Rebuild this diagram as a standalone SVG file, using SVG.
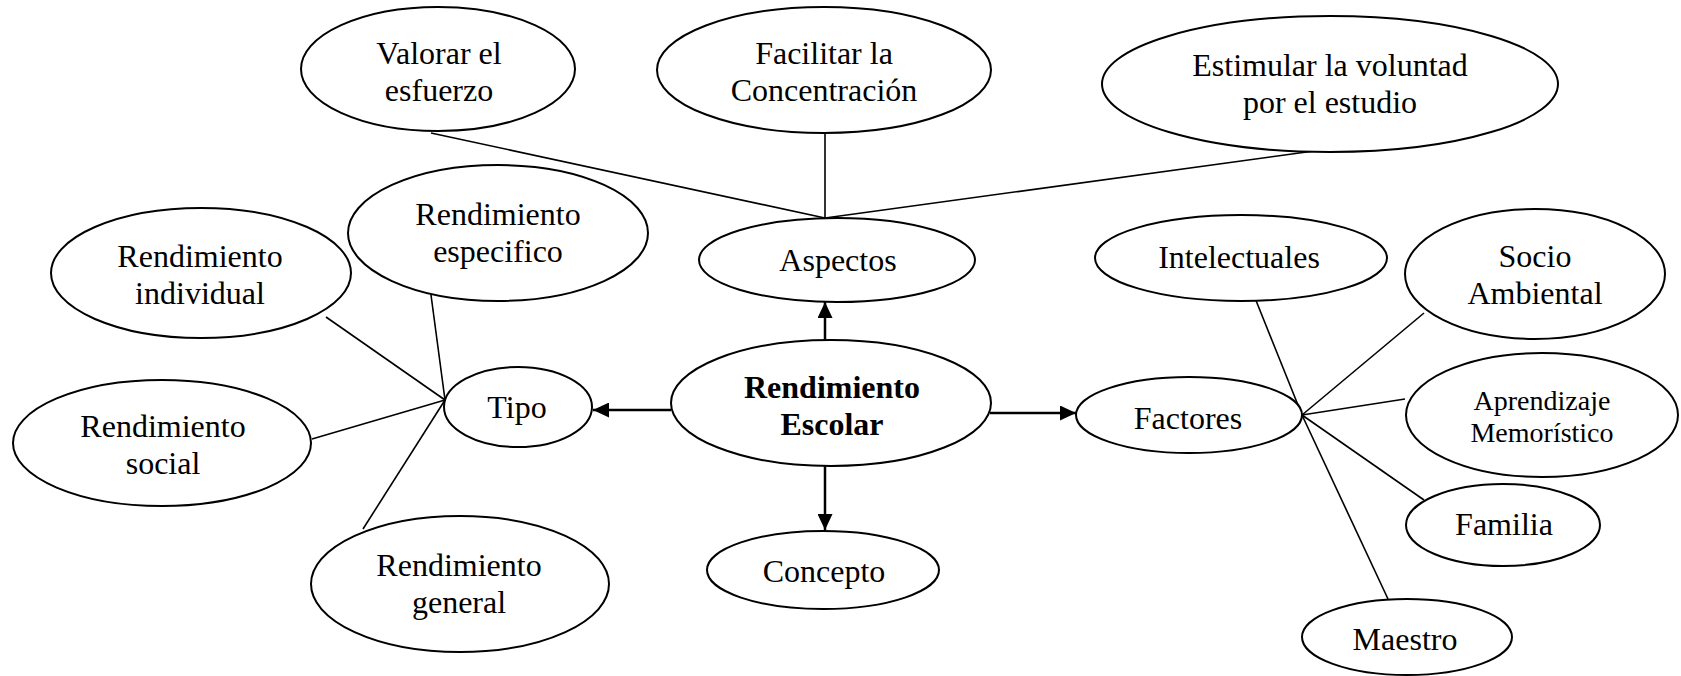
<svg xmlns="http://www.w3.org/2000/svg" width="1681" height="676" viewBox="0 0 1681 676">
<defs>
<style>
.n{fill:#fff;stroke:#000;stroke-width:2}
.t{font-family:"Liberation Serif","Times New Roman",serif;font-size:32px;fill:#000;text-anchor:middle}
.s{font-size:28px}
.b{font-weight:bold}
.l{stroke:#000;stroke-width:1.6;fill:none}
.a{stroke:#000;stroke-width:2.5;fill:none;marker-end:url(#ah)}
</style>
<marker id="ah" viewBox="0 0 16 15" refX="16" refY="7.5" markerWidth="16" markerHeight="15" markerUnits="userSpaceOnUse" orient="auto">
<path d="M0,0 L16,7.5 L0,15 Z" fill="#000"/>
</marker>
</defs>
<rect width="1681" height="676" fill="#fff"/>
<g id="connectors">
<line class="l" x1="431" y1="133" x2="825" y2="218"/>
<line class="l" x1="825" y1="133" x2="825" y2="218"/>
<line class="l" x1="1314" y1="151" x2="825" y2="218"/>
<line class="l" x1="326" y1="317" x2="445" y2="400"/>
<line class="l" x1="431" y1="295" x2="445" y2="400"/>
<line class="l" x1="312" y1="439" x2="445" y2="400"/>
<line class="l" x1="363" y1="529" x2="445" y2="400"/>
<line class="l" x1="1255" y1="298" x2="1302" y2="415"/>
<line class="l" x1="1424" y1="313" x2="1302" y2="415"/>
<line class="l" x1="1405" y1="399" x2="1302" y2="415"/>
<line class="l" x1="1424" y1="500" x2="1302" y2="415"/>
<line class="l" x1="1388" y1="599" x2="1302" y2="415"/>
<line class="a" x1="825" y1="340" x2="825" y2="302"/>
<line class="a" x1="825" y1="466" x2="825" y2="530"/>
<line class="a" x1="671" y1="410" x2="593" y2="410"/>
<line class="a" x1="990" y1="413" x2="1076" y2="413"/>
</g>
<g id="valorar"><ellipse class="n" cx="438" cy="69" rx="137" ry="62"/><text class="t" x="439" y="64">Valorar el</text><text class="t" x="439" y="101">esfuerzo</text></g>
<g id="facilitar"><ellipse class="n" cx="824" cy="70" rx="167" ry="63"/><text class="t" x="824" y="64">Facilitar la</text><text class="t" x="824" y="101">Concentración</text></g>
<g id="estimular"><ellipse class="n" cx="1330" cy="84" rx="228" ry="68"/><text class="t" x="1330" y="76">Estimular la voluntad</text><text class="t" x="1330" y="113">por el estudio</text></g>
<g id="especifico"><ellipse class="n" cx="498" cy="233" rx="150" ry="68"/><text class="t" x="498" y="225">Rendimiento</text><text class="t" x="498" y="262">especifico</text></g>
<g id="individual"><ellipse class="n" cx="201" cy="273" rx="150" ry="65"/><text class="t" x="200" y="267">Rendimiento</text><text class="t" x="200" y="304">individual</text></g>
<g id="aspectos"><ellipse class="n" cx="837" cy="260" rx="138" ry="42"/><text class="t" x="838" y="271">Aspectos</text></g>
<g id="intelectuales"><ellipse class="n" cx="1241" cy="258" rx="146" ry="43"/><text class="t" x="1239" y="268">Intelectuales</text></g>
<g id="socio"><ellipse class="n" cx="1535" cy="274" rx="130" ry="65"/><text class="t" x="1535" y="267">Socio</text><text class="t" x="1535" y="304">Ambiental</text></g>
<g id="tipo"><ellipse class="n" cx="518" cy="407" rx="74" ry="40"/><text class="t" x="517" y="418">Tipo</text></g>
<g id="escolar"><ellipse class="n" cx="831" cy="403" rx="160" ry="63"/><text class="t b" x="832" y="398">Rendimiento</text><text class="t b" x="832" y="435">Escolar</text></g>
<g id="factores"><ellipse class="n" cx="1189" cy="415" rx="113" ry="38"/><text class="t" x="1188" y="429">Factores</text></g>
<g id="social"><ellipse class="n" cx="162" cy="443" rx="149" ry="63"/><text class="t" x="163" y="437">Rendimiento</text><text class="t" x="163" y="474">social</text></g>
<g id="general"><ellipse class="n" cx="460" cy="584" rx="149" ry="68"/><text class="t" x="459" y="576">Rendimiento</text><text class="t" x="459" y="613">general</text></g>
<g id="concepto"><ellipse class="n" cx="823" cy="570" rx="116" ry="39"/><text class="t" x="824" y="582">Concepto</text></g>
<g id="aprendizaje"><ellipse class="n" cx="1542" cy="415" rx="136" ry="62"/><text class="t s" x="1542" y="410">Aprendizaje</text><text class="t s" x="1542" y="442">Memorístico</text></g>
<g id="familia"><ellipse class="n" cx="1503" cy="525" rx="97" ry="41"/><text class="t" x="1504" y="535">Familia</text></g>
<g id="maestro"><ellipse class="n" cx="1407" cy="637" rx="105" ry="38"/><text class="t" x="1405" y="650">Maestro</text></g>
</svg>
